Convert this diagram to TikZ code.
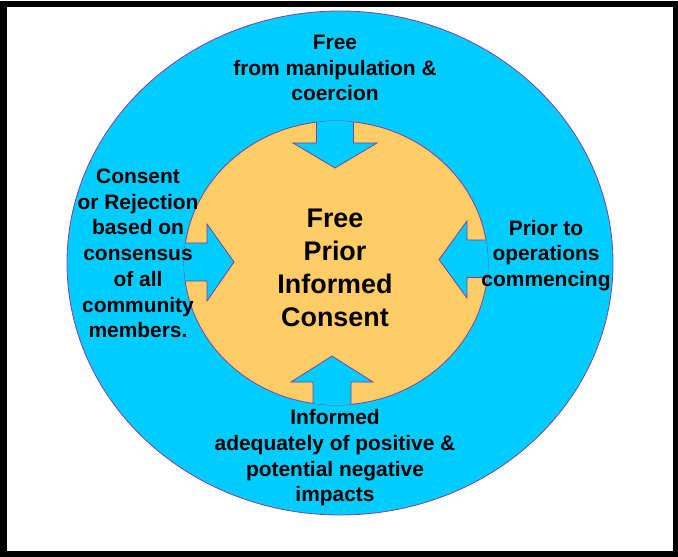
\documentclass[tikz,border=0pt]{standalone}
\usepackage{fontspec}
\setmainfont{Liberation Sans}
\usetikzlibrary{positioning}
\definecolor{ringblue}{HTML}{00CCFF}
\definecolor{coreorange}{HTML}{FFCC66}
\definecolor{rim}{HTML}{8040A0}

\begin{document}
\begin{tikzpicture}[x=1bp, y=-1bp, on grid,
side/.style={align=center, inner sep=0pt, font=\fontsize{21}{25.8}\selectfont\bfseries},
core/.style={align=center, inner sep=0pt, font=\fontsize{27}{33}\selectfont\bfseries},
push/.style={fill=ringblue, draw=rim, line width=0.8bp}]
\useasboundingbox (0,0) rectangle (678,557);
\draw[line width=6bp] (3.5,4.5) rectangle (675.5,553.5);

% rings
\filldraw[fill=ringblue, draw=rim, line width=0.8bp] (340,263) ellipse [x radius=273, y radius=252];
\filldraw[fill=coreorange, draw=rim, line width=0.8bp] (336,263) ellipse [x radius=152, y radius=142];

% arrows into the core
\begin{scope}
\clip (336,263) ellipse [x radius=152, y radius=142];
\draw[push] (316.5,100) -- (316.5,143) -- (293,143) -- (335,168) -- (377,143) -- (353.5,143) -- (353.5,100) -- cycle;
\draw[push] (313,430) -- (313,382) -- (291,382) -- (332,356) -- (373,382) -- (351,382) -- (351,430) -- cycle;
\draw[push] (160,243) -- (207,243) -- (207,224) -- (234,262) -- (207,301) -- (207,281) -- (160,281) -- cycle;
\draw[push] (510,240) -- (467,240) -- (467,221) -- (439,259.5) -- (467,298) -- (467,277.5) -- (510,277.5) -- cycle;
\end{scope}

\node[core] (FPIC) at (335,268) {Free\\Prior\\Informed\\Consent};
\node[side] (Free) [above=200bp of FPIC] {Free\\from manipulation \&\\coercion};
\node[side] (Informed) [below=190bp of FPIC] {Informed\\adequately of positive \&\\potential negative\\impacts};
\node[side] (Consensus) [above left=14.5bp and 197bp of FPIC] {Consent\\or Rejection\\based on\\consensus\\of all\\community\\members.};
\node[side] (Prior) [above right=12.5bp and 211bp of FPIC] {Prior to\\operations\\commencing};
\end{tikzpicture}
\end{document}
